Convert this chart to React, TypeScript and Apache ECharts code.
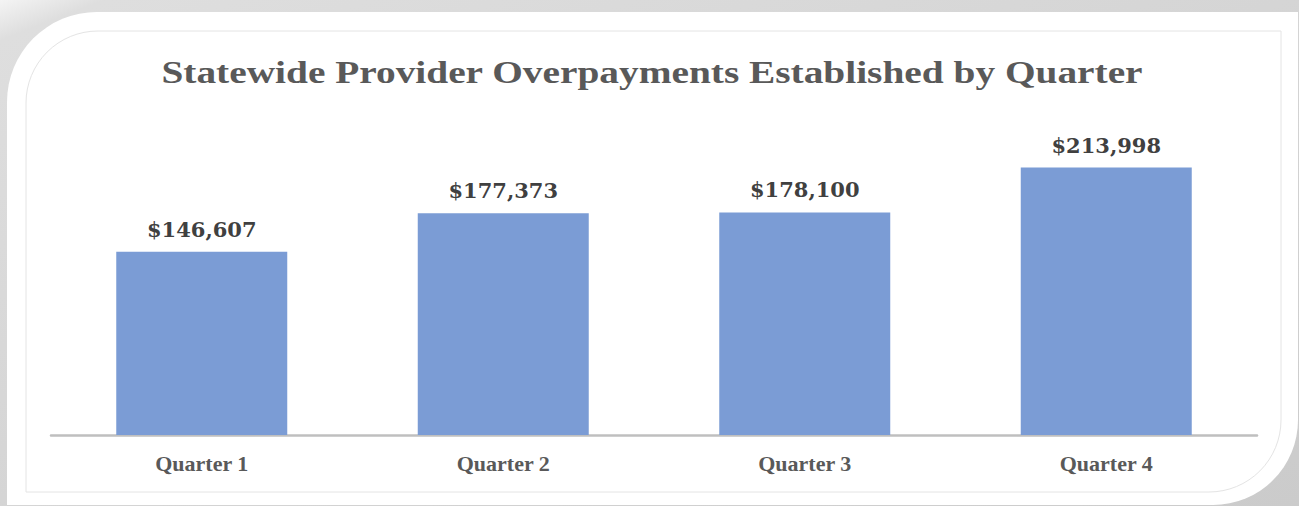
import React, { useEffect, useRef } from "react";
import * as echarts from "echarts";

const titleText = "Statewide Provider Overpayments Established by Quarter";
const categories = ["Quarter 1", "Quarter 2", "Quarter 3", "Quarter 4"];
const values = [146607, 177373, 178100, 213998];

const W = 1299;
const H = 506;

export default function App() {
  const ref = useRef<HTMLDivElement>(null);

  useEffect(() => {
    if (!ref.current) return;
    const chart = echarts.init(ref.current, null, { renderer: "svg" });
    chart.setOption({
      animation: false,
      backgroundColor: "transparent",
      graphic: [
        {
          type: "rect",
          z: -10,
          shape: { x: 0, y: 0, width: W, height: H },
          style: {
            fill: new echarts.graphic.LinearGradient(0, 0, 1, 1, [
              { offset: 0, color: "#f4f4f4" },
              { offset: 0.04, color: "#dedede" },
              { offset: 1, color: "#cbcbcb" },
            ]),
          },
        },
        {
          type: "rect",
          z: -9,
          shape: { x: 7, y: 12, width: W - 8, height: H - 13, r: [90, 0, 85, 0] },
          style: { fill: "#ffffff" },
        },
        {
          type: "rect",
          z: -8,
          shape: { x: 26, y: 31, width: 1255, height: 461, r: [72, 0, 72, 0] },
          style: { fill: "none", stroke: "#e4e4e4", lineWidth: 1 },
        },
        {
          type: "text",
          z: 5,
          x: 652,
          y: 72,
          scaleX: 1.23,
          style: {
            text: titleText,
            font: "bold 32px 'Liberation Serif', 'Times New Roman', serif",
            fill: "#595959",
            textAlign: "center",
            textVerticalAlign: "middle",
          },
        },
      ],
      grid: { left: 51, right: 42, top: 122.5, bottom: 71, containLabel: false },
      xAxis: {
        type: "category",
        data: categories,
        axisTick: { show: false },
        axisLine: { lineStyle: { color: "#bfbfbf", width: 2.5 } },
        axisLabel: {
          margin: 17,
          fontSize: 22,
          fontWeight: "bold",
          color: "#595959",
          fontFamily: "'Liberation Serif', 'Times New Roman', serif",
        },
      },
      yAxis: {
        type: "value",
        min: 0,
        max: 250000,
        show: false,
        splitLine: { show: false },
      },
      series: [
        {
          type: "bar",
          data: values,
          barWidth: 171,
          itemStyle: { color: "#7b9cd5" },
          label: {
            show: true,
            position: "top",
            distance: 12,
            fontSize: 21,
            fontWeight: "bold",
            color: "#404040",
            fontFamily: "'DejaVu Serif', Georgia, serif",
            formatter: (p: any) => "$" + Number(p.value).toLocaleString("en-US"),
          },
        },
      ],
    });
    return () => chart.dispose();
  }, []);

  return (
    <div
      ref={ref}
      style={{ position: "absolute", left: 0, top: 0, width: W, height: H }}
    />
  );
}
